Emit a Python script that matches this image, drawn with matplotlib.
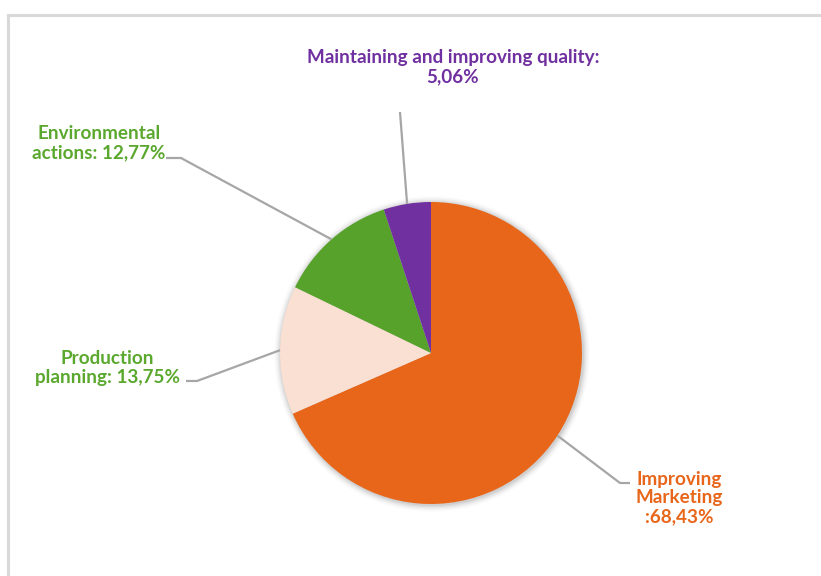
import numpy as np
import matplotlib
matplotlib.use("Agg")
import matplotlib.pyplot as plt
from matplotlib.patches import Circle
from matplotlib.lines import Line2D

# Data (clockwise from 12 o'clock)
categories = ["Improving\nMarketing\n:68,43%", "Production\nplanning: 13,75%",
              "Environmental\nactions: 12,77%", "Maintaining and improving quality:\n5,06%"]
values = [68.43, 13.75, 12.77, 5.06]
slice_colors = ["#E8661A", "#FAE0D2", "#56A22A", "#7030A0"]
text_colors = ["#E8661A", "#5BA82E", "#5BA82E", "#7030A0"]

W, H = 821, 576
fig = plt.figure(figsize=(W / 100, H / 100), dpi=100)
ax = fig.add_axes([0, 0, 1, 1])
ax.set_xlim(0, W)
ax.set_ylim(0, H)
ax.set_aspect("equal")
ax.axis("off")

# panel frame (top and left edges)
ax.add_line(Line2D([7.5, W], [H - 14.5, H - 14.5], color="#D9D9D9", lw=2.2))
ax.add_line(Line2D([7.5, 7.5], [0, H - 14.5], color="#D9D9D9", lw=2.2))

cx, cy, r = 431, H - 353, 151

# soft shadow behind the pie
for i, a in enumerate(np.linspace(0.05, 0.012, 6)):
    ax.add_patch(Circle((cx + 1, cy - 1), r + 1 + i * 1.2, color="black",
                        alpha=a, lw=0, zorder=1))

wedges, _ = ax.pie(values, colors=slice_colors, startangle=90, counterclock=False,
                   center=(cx, cy), radius=r, frame=True,
                   wedgeprops=dict(linewidth=0, zorder=2))
ax.set_xlim(0, W)
ax.set_ylim(0, H)
ax.axis("off")

font = dict(family=["Lato", "DejaVu Sans"], fontweight="bold", fontsize=13.6)
line_kw = dict(color="#A6A6A6", lw=1.6, zorder=3, solid_capstyle="butt")

# label anchors: (elbow point, end point, text position, alignment)
layout = [
    ((620, H - 483), (630, H - 483), (679, H - 498), "center"),
    ((197, H - 381), (186, H - 381), (107, H - 368), "center"),
    ((181, H - 158), (166, H - 158), (99, H - 143), "center"),
    (None, (400, H - 112), (453, H - 67), "center"),
]

for w, label, tc, (elbow, end, tpos, ha) in zip(wedges, categories, text_colors, layout):
    mid = np.deg2rad((w.theta1 + w.theta2) / 2)
    px, py = cx + r * np.cos(mid), cy + r * np.sin(mid)
    xs, ys = [px], [py]
    if elbow is not None:
        xs.append(elbow[0]); ys.append(elbow[1])
    xs.append(end[0]); ys.append(end[1])
    ax.add_line(Line2D(xs, ys, **line_kw))
    ax.text(tpos[0], tpos[1], label, color=tc, ha=ha, va="center",
            linespacing=1.12, zorder=4, **font)

fig.savefig("out.png", dpi=100, facecolor="white")
